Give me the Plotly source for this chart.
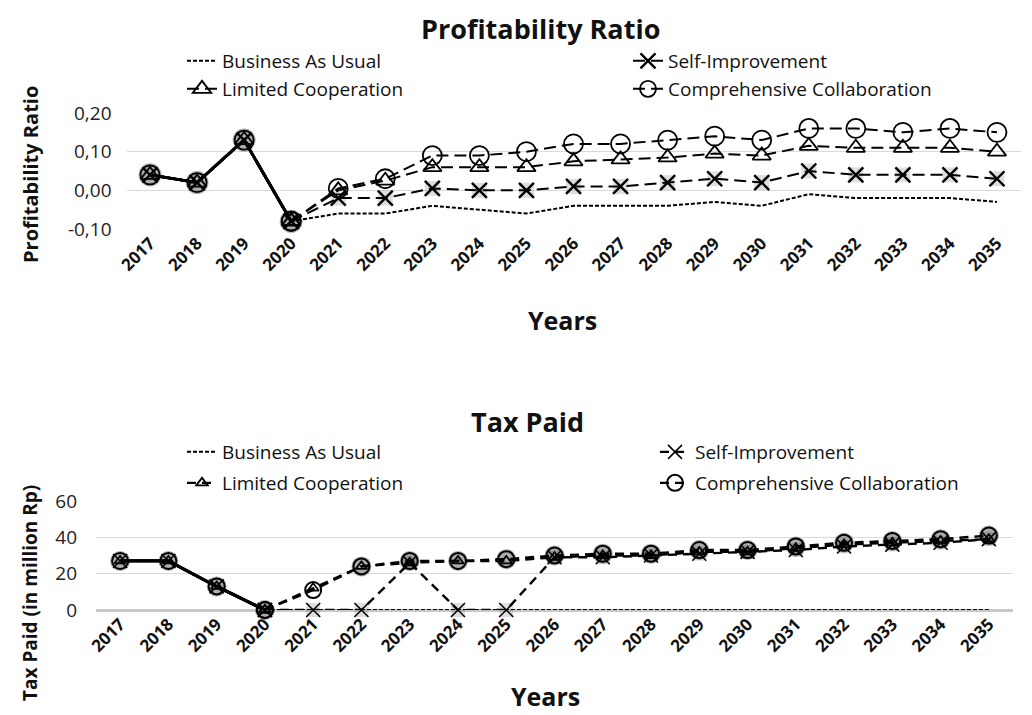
import plotly.graph_objects as go

SCREEN_W, SCREEN_H = 1032, 715
OFF = 8  # page body margin in the browser
W, H = SCREEN_W - OFF, SCREEN_H - OFF

years = [str(y) for y in range(2017, 2036)]
scenarios = ["Business As Usual", "Self-Improvement", "Limited Cooperation", "Comprehensive Collaboration"]

# Profitability ratio
bau_pr = [0.04, 0.02, 0.13, -0.08, -0.06, -0.06, -0.04, -0.05, -0.06, -0.04, -0.04, -0.04, -0.03, -0.04, -0.01, -0.02, -0.02, -0.02, -0.03]
si_pr = [0.04, 0.02, 0.13, -0.08, -0.02, -0.02, 0.005, 0.00, 0.00, 0.01, 0.01, 0.02, 0.03, 0.02, 0.05, 0.04, 0.04, 0.04, 0.03]
lc_pr = [0.04, 0.02, 0.13, -0.08, 0.00, 0.025, 0.06, 0.06, 0.06, 0.075, 0.08, 0.085, 0.095, 0.09, 0.115, 0.11, 0.11, 0.11, 0.10]
cc_pr = [0.04, 0.02, 0.13, -0.08, 0.005, 0.03, 0.09, 0.09, 0.10, 0.12, 0.12, 0.13, 0.14, 0.13, 0.16, 0.16, 0.15, 0.16, 0.15]

# Tax paid (million Rp)
bau_tax = [27, 27, 13, 0, 0, 0, 0, 0, 0, 0, 0, 0, 0, 0, 0, 0, 0, 0, 0]
si_tax = [27, 27, 13, 0, 0, 0, 26, 0, 0, 29, 29, 30, 31, 32, 33, 35, 36, 37, 39]
lc_tax = [27, 27, 13, 0, 12, 24, 26, 27, 27, 29, 30, 30, 32, 32, 34, 36, 37, 38, 39]
cc_tax = [27, 27, 13, 0, 11, 24, 27, 27, 28, 30, 31, 31, 33, 33, 35, 37, 38, 39, 41]

pr_ticks = [-0.10, 0.00, 0.10, 0.20]
pr_tick_labels = ["-0,10", "0,00", "0,10", "0,20"]
tax_ticks = [0, 20, 40, 60]

N_HIST = 4  # 2017-2020 historical (solid)
FONT = "Open Sans"


def px_x(p):
    return (p - OFF) / W


def px_y(p):
    return 1 - (p - OFF) / H


fig = go.Figure()

MARKERS_TOP = {
    "Self-Improvement": dict(symbol="x-thin", size=15, color="black", line=dict(width=2.4, color="black")),
    "Limited Cooperation": dict(symbol="triangle-up-open", size=16, color="black", line=dict(width=1.8)),
    "Comprehensive Collaboration": dict(symbol="circle-open", size=19, color="black", line=dict(width=1.8)),
}
MARKERS_BOTTOM = {
    "Self-Improvement": dict(symbol="x-thin", size=14, color="black", line=dict(width=1.5, color="black")),
    "Limited Cooperation": dict(symbol="triangle-up-open", size=10, color="black", line=dict(width=1.8)),
    "Comprehensive Collaboration": dict(symbol="circle-open", size=16, color="black", line=dict(width=2)),
}


def add_chart(vals_list, xa, ya, dash_main, dash_bau, legends, markers, glow_all, wmain):
    # dark glow behind overlapping marker groups
    glow_idx = list(range(len(years))) if glow_all else list(range(N_HIST))
    glow_idx = [i for i in glow_idx if i < N_HIST or vals_list[3][i] > 20]
    fig.add_trace(go.Scatter(
        x=[years[i] for i in glow_idx], y=[vals_list[3][i] for i in glow_idx],
        mode="markers", hoverinfo="skip", showlegend=False,
        marker=dict(symbol="circle", size=markers["Comprehensive Collaboration"]["size"] + 4,
                    color="rgba(0,0,0,0.33)"),
        xaxis=xa, yaxis=ya, cliponaxis=False))
    for name, vals, lg in zip(scenarios, vals_list, legends):
        if name == "Business As Usual":
            fig.add_trace(go.Scatter(
                x=years[N_HIST - 1:], y=vals[N_HIST - 1:], mode="lines", name=name,
                line=dict(color="black", width=2, dash=dash_bau),
                xaxis=xa, yaxis=ya, legend=lg, showlegend=True, cliponaxis=False))
            fig.add_trace(go.Scatter(
                x=years[:N_HIST], y=vals[:N_HIST], mode="lines", name=name,
                line=dict(color="black", width=2.8), xaxis=xa, yaxis=ya, showlegend=False,
                cliponaxis=False))
            continue
        m = markers[name]
        if name == "Self-Improvement":
            fig.add_trace(go.Scatter(
                x=years[N_HIST:], y=vals[N_HIST:], mode="markers", hoverinfo="skip", showlegend=False,
                marker=dict(symbol="square", size=m["size"], color="rgba(0,0,0,0.13)"),
                xaxis=xa, yaxis=ya, cliponaxis=False))
        fig.add_trace(go.Scatter(
            x=years[:N_HIST], y=vals[:N_HIST], mode="lines+markers", name=name,
            line=dict(color="black", width=2.8), marker=m,
            xaxis=xa, yaxis=ya, showlegend=False, cliponaxis=False))
        fig.add_trace(go.Scatter(
            x=years[N_HIST - 1:], y=vals[N_HIST - 1:], mode="lines+markers", name=name,
            line=dict(color="black", width=wmain, dash=dash_main), marker=m,
            xaxis=xa, yaxis=ya, legend=lg, showlegend=True, cliponaxis=False))


add_chart([bau_pr, si_pr, lc_pr, cc_pr], "x", "y", "12px,6px", "4px,2px",
          ["legend", "legend2", "legend3", "legend4"], MARKERS_TOP, False, 2)
add_chart([bau_tax, si_tax, lc_tax, cc_tax], "x2", "y2", "9px,6px", "4px,2px",
          ["legend5", "legend6", "legend7", "legend8"], MARKERS_BOTTOM, True, 2.4)

xtick_font = dict(family=FONT, size=17, color="#111", weight="bold")
ytick_font = dict(family=FONT, size=19, color="#222")

layout = dict(
    width=W, height=H, margin=dict(l=0, r=0, t=0, b=0, autoexpand=False),
    paper_bgcolor="white", plot_bgcolor="white",
    font=dict(family=FONT, color="#111"),
    xaxis=dict(domain=[px_x(126.5), px_x(1020.5)], anchor="y", type="category",
               categoryorder="array", categoryarray=years, range=[-0.5, 18.5], automargin=False,
               showgrid=False, zeroline=False, tickangle=-45, tickfont=xtick_font, ticks=""),
    yaxis=dict(domain=[px_y(229), px_y(113)], anchor="x", range=[-0.1, 0.2], automargin=False,
               tickvals=pr_ticks, ticktext=pr_tick_labels, showgrid=True, gridcolor="#d9d9d9",
               gridwidth=1, zeroline=False, ticklabelstandoff=14, tickfont=ytick_font, ticks=""),
    xaxis2=dict(domain=[px_x(96), px_x(1013)], anchor="y2", type="category",
                categoryorder="array", categoryarray=years, range=[-0.5, 18.5], automargin=False,
                showgrid=False, zeroline=False, tickangle=-45, tickfont=xtick_font, ticks=""),
    yaxis2=dict(domain=[px_y(610), px_y(501)], anchor="x2", range=[0, 60], automargin=False,
                tickvals=tax_ticks, showgrid=True, gridcolor="#d9d9d9", gridwidth=1,
                zeroline=True, zerolinecolor="#c8c8c8", zerolinewidth=3, ticklabelstandoff=18,
                tickfont=ytick_font, ticks=""),
)

legend_pos = {
    "legend": (182, 61), "legend2": (628, 61), "legend3": (182, 89), "legend4": (628, 89),
    "legend5": (182, 452), "legend6": (655, 452), "legend7": (182, 483), "legend8": (655, 483),
}
for key, (lx, ly) in legend_pos.items():
    layout[key] = dict(x=px_x(lx), y=px_y(ly), xanchor="left", yanchor="middle",
                       bgcolor="rgba(0,0,0,0)", font=dict(family=FONT, size=19, color="#111"),
                       itemclick=False, itemdoubleclick=False)

fig.update_layout(**layout)

# titles: (text, x px, paper y, yanchor, size, angle)
annots = [
    ("<b>Profitability Ratio</b>", 540, 1.0, "top", 27, 0),
    ("<b>Tax Paid</b>", 527, px_y(421), "middle", 27, 0),
    ("<b>Years</b>", 562, px_y(320), "middle", 25, 0),
    ("<b>Years</b>", 545, 0.0, "bottom", 25, 0),
    ("<b>Profitability Ratio</b>", 30, px_y(175), "middle", 20, -90),
    ("<b>Tax Paid (in million Rp)</b>", 30, px_y(593), "middle", 19, -90),
]
for text, ax, ay, yanc, size, ang in annots:
    fig.add_annotation(text=text, x=px_x(ax), y=ay, xref="paper", yref="paper",
                       showarrow=False, xanchor="center", yanchor=yanc, textangle=ang,
                       font=dict(family=FONT, size=size, color="#111"))

fig.write_html("out.html")
